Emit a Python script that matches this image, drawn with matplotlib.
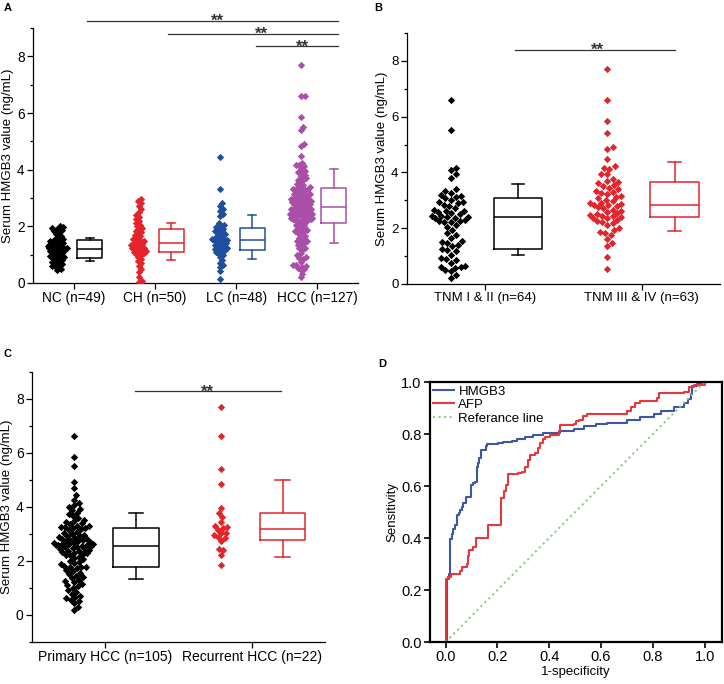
import numpy as np
import matplotlib
matplotlib.use('Agg')

import matplotlib.pyplot as plt
from matplotlib.ticker import MultipleLocator, FormatStrFormatter

plt.rcParams['font.family'] = ['Liberation Sans', 'DejaVu Sans']

# ---- panel A: serum HMGB3 per group
labels_a = ['NC (n=49)', 'CH (n=50)', 'LC (n=48)', 'HCC (n=127)']
nc = [2.0, 1.97, 1.93, 1.9, 1.86, 1.82, 1.78, 1.72, 1.66, 1.6, 1.56, 1.52, 1.5,
      1.47, 1.44, 1.41, 1.38, 1.35, 1.32, 1.3, 1.27, 1.25, 1.23, 1.22, 1.21,
      1.19, 1.17, 1.15, 1.12, 1.1, 1.07, 1.04, 1.01, 0.98, 0.95, 0.92, 0.9,
      0.88, 0.85, 0.82, 0.78, 0.75, 0.72, 0.68, 0.64, 0.6, 0.56, 0.5, 0.45]
ch = [2.95, 2.9, 2.82, 2.72, 2.6, 2.5, 2.4, 2.32, 2.25, 2.18, 2.12, 2.05,
      2.0, 1.95, 1.9, 1.85, 1.8, 1.75, 1.7, 1.65, 1.6, 1.55, 1.52, 1.48, 1.45,
      1.4, 1.37, 1.34, 1.31, 1.28, 1.25, 1.22, 1.2, 1.17, 1.14, 1.11,
      1.09, 1.06, 1.02, 0.98, 0.92, 0.85, 0.78, 0.7, 0.6, 0.48, 0.38, 0.22, 0.06, 0.02]
lc = [4.45, 3.3, 2.82, 2.72, 2.62, 2.55, 2.45, 2.38, 2.12, 2.05, 2.0, 1.96, 1.92,
      1.88, 1.84, 1.8, 1.76, 1.72, 1.68, 1.64, 1.6, 1.57, 1.55, 1.53, 1.52,
      1.49, 1.46, 1.42, 1.38, 1.35, 1.32, 1.29, 1.26, 1.23, 1.2, 1.17, 1.15,
      1.12, 1.08, 1.03, 0.98, 0.9, 0.8, 0.7, 0.62, 0.55, 0.42, 0.15]

# ---- panel B: HCC split by TNM stage
labels_b = ['TNM I & II (n=64)', 'TNM III & IV (n=63)']
tnm12 = [6.61, 5.51, 4.17, 4.07, 3.93, 3.81, 3.39, 3.33, 3.27, 3.2, 3.15, 3.12,
         3.08, 3.0, 2.95, 2.93, 2.9, 2.85, 2.79, 2.72, 2.65, 2.62, 2.6, 2.58,
         2.55, 2.5, 2.45, 2.43, 2.41, 2.4, 2.38, 2.35, 2.3, 2.27, 2.25, 2.24,
         2.22, 2.13, 2.05, 1.95, 1.83, 1.77, 1.65, 1.55, 1.49, 1.47, 1.4, 1.35,
         1.25, 1.23, 1.17, 1.05, 0.92, 0.89, 0.86, 0.75, 0.65, 0.62, 0.6, 0.58,
         0.5, 0.45, 0.32, 0.2]
tnm34 = [7.71, 6.61, 5.85, 5.41, 4.92, 4.83, 4.47, 4.23, 4.17, 4.13, 3.96, 3.93,
         3.78, 3.69, 3.65, 3.63, 3.55, 3.5, 3.45, 3.39, 3.33, 3.3, 3.27, 3.24,
         3.15, 3.12, 3.09, 3.02, 2.97, 2.92, 2.9, 2.86, 2.85, 2.82, 2.79, 2.75,
         2.72, 2.67, 2.62, 2.57, 2.55, 2.52, 2.48, 2.45, 2.43, 2.4, 2.37, 2.35,
         2.3, 2.25, 2.21, 2.19, 2.12, 2.0, 1.95, 1.88, 1.83, 1.77, 1.6, 1.47,
         1.35, 0.98, 0.53]
hcc = tnm12 + tnm34

# ---- panel C: primary vs recurrent HCC
labels_c = ['Primary HCC (n=105)', 'Recurrent HCC (n=22)']
primary = [6.61, 5.85, 5.51, 4.92, 4.68, 4.43, 4.25, 4.12, 4.05, 4.0,
           3.93, 3.86, 3.78, 3.72, 3.65, 3.58, 3.52, 3.47, 3.42, 3.38,
           3.34, 3.3, 3.27, 3.25, 3.23, 3.21, 3.2, 3.17, 3.12, 3.08,
           3.03, 3.0, 2.96, 2.93, 2.9, 2.87, 2.84, 2.82, 2.8, 2.78,
           2.75, 2.73, 2.71, 2.69, 2.67, 2.65, 2.63, 2.62, 2.6, 2.59,
           2.58, 2.57, 2.56,
           2.54, 2.52, 2.5, 2.47, 2.45, 2.42, 2.4, 2.37, 2.35, 2.32,
           2.3, 2.27, 2.25, 2.22, 2.2, 2.15, 2.1, 2.05, 2.0, 1.95,
           1.9, 1.86, 1.82, 1.78, 1.76, 1.75, 1.72, 1.65, 1.6, 1.55,
           1.5, 1.45, 1.4, 1.35, 1.3, 1.25, 1.2, 1.15, 1.1, 1.05,
           1.0, 0.92, 0.85, 0.78, 0.7, 0.65, 0.6, 0.55, 0.5, 0.42,
           0.3, 0.18]
recurrent = [7.7, 6.61, 5.39, 4.84, 3.96, 3.78, 3.63, 3.45, 3.29, 3.24, 3.2,
             3.14, 3.04, 3.02, 2.95, 2.87, 2.83, 2.71, 2.44, 2.38, 2.22, 1.85]

# box statistics (q1, median, q3, whisker low, whisker high)
a_q1 = [0.88, 1.09, 1.15, 2.10]
a_med = [1.21, 1.42, 1.53, 2.68]
a_q3 = [1.50, 1.90, 1.94, 3.35]
a_lo = [0.78, 0.80, 0.86, 1.40]
a_hi = [1.60, 2.12, 2.39, 4.02]

b_q1 = [1.25, 2.41]
b_med = [2.39, 2.84]
b_q3 = [3.08, 3.65]
b_lo = [1.03, 1.90]
b_hi = [3.60, 4.38]

c_q1 = [1.75, 2.77]
c_med = [2.56, 3.18]
c_q3 = [3.22, 3.75]
c_lo = [1.32, 2.14]
c_hi = [3.77, 4.98]

# ---- panel D: ROC curves (jump points)
hmgb3_fpr = [0, 0.006, 0.013, 0.017, 0.023, 0.03, 0.036, 0.043, 0.05, 0.055, 0.062,
             0.068, 0.079, 0.1, 0.107, 0.114, 0.12, 0.125, 0.13, 0.135, 0.156,
             0.161, 0.204, 0.223, 0.255, 0.275, 0.307, 0.339, 0.378, 0.443, 0.494,
             0.533, 0.58, 0.623, 0.70, 0.75, 0.804, 0.83, 0.88, 0.92, 0.935, 0.946,
             0.952, 0.97, 1.0]
hmgb3_tpr = [0, 0.243, 0.262, 0.397, 0.417, 0.436, 0.45, 0.488, 0.495, 0.507, 0.52,
             0.533, 0.559, 0.604, 0.61, 0.617, 0.675, 0.69, 0.707, 0.739, 0.752,
             0.761, 0.765, 0.769, 0.774, 0.782, 0.787, 0.795, 0.804, 0.81, 0.82,
             0.83, 0.838, 0.843, 0.855, 0.865, 0.877, 0.888, 0.903, 0.92, 0.935,
             0.952, 0.984, 0.994, 1.0]
afp_fpr = [0, 0.0, 0.01, 0.02, 0.055, 0.062, 0.081, 0.088, 0.092, 0.107, 0.117,
           0.163, 0.213, 0.225, 0.233, 0.242, 0.28, 0.294, 0.307, 0.32, 0.326,
           0.345, 0.355, 0.365, 0.375, 0.385, 0.404, 0.436, 0.443, 0.494, 0.505,
           0.514, 0.53, 0.546, 0.70, 0.715, 0.73, 0.752, 0.817, 0.823, 0.92,
           0.94, 0.959, 1.0]
afp_tpr = [0, 0.243, 0.25, 0.262, 0.275, 0.288, 0.30, 0.33, 0.352, 0.365, 0.40,
           0.449, 0.552, 0.58, 0.604, 0.645, 0.65, 0.655, 0.675, 0.70, 0.72,
           0.726, 0.745, 0.765, 0.78, 0.79, 0.797, 0.81, 0.836, 0.84, 0.85,
           0.855, 0.87, 0.877, 0.888, 0.905, 0.92, 0.926, 0.94, 0.959, 0.963,
           0.981, 0.99, 1.0]

BLACK = 'black'
RED = '#e3242b'
BLUE = '#1f4e9f'
PURPLE = '#a94fa8'


def swarm_x(ax, center, values, d, maxw):
    # simple beeswarm in pixel space, points placed nearest the centre line,
    # wide rows squeezed softly into +-maxw pixels (points then overlap)
    vals = np.asarray(values, float)
    pts = ax.transData.transform(np.column_stack([np.full(len(vals), center), vals]))
    ypix = pts[:, 1]
    offs = np.zeros(len(vals))
    placed = []
    for i in np.argsort(ypix):
        y = ypix[i]
        near = [(px, py) for px, py in placed if abs(py - y) < d]
        cands = [0.0]
        for px, py in near:
            dx = np.sqrt(d * d - (py - y) ** 2)
            cands += [px + dx, px - dx]
        cands.sort(key=abs)
        for c in cands:
            if all((c - px) ** 2 + (y - py) ** 2 >= d * d - 1e-6 for px, py in near):
                offs[i] = c
                break
        placed.append((offs[i], y))
    offs = maxw * np.tanh(offs / maxw)
    back = ax.transData.inverted().transform(np.column_stack([pts[:, 0] + offs, ypix]))
    return back[:, 0]


def draw_boxes(ax, pos, q1, med, q3, lo, hi, colors, width, capw):
    for i in range(len(pos)):
        st = [dict(q1=q1[i], med=med[i], q3=q3[i], whislo=lo[i], whishi=hi[i], fliers=[])]
        c = colors[i]
        lp = dict(color=c, linewidth=1.1)
        ax.bxp(st, positions=[pos[i]], widths=width, capwidths=capw, showfliers=False,
               manage_ticks=False, boxprops=lp, medianprops=lp, whiskerprops=lp, capprops=lp)


def style_axes(ax, fs):
    for s in ['top', 'right']:
        ax.spines[s].set_visible(False)
    for s in ['left', 'bottom']:
        ax.spines[s].set_linewidth(0.9)
    ax.yaxis.set_major_locator(MultipleLocator(2))
    ax.yaxis.set_minor_locator(MultipleLocator(1))
    ax.tick_params(which='major', length=4, width=0.9, labelsize=fs, direction='out', pad=2)
    ax.tick_params(which='minor', length=2.5, width=0.9)


def sig_bar(ax, x0, x1, y, xs):
    ax.plot([x0, x1], [y, y], color='#333333', lw=0.9, clip_on=False)
    ax.annotate('**', xy=(xs, y), xytext=(0, -4), textcoords='offset points',
                ha='center', va='baseline', fontsize=12, fontweight='bold',
                color='#333333', annotation_clip=False)


def group_panel(ax, groups, labels, colors, q1, med, q3, lo, hi, ylim, d, maxw,
                fs, dx_s, dx_b, capw):
    ax.set_xlim(0.5, len(groups) + 0.5)
    ax.set_ylim(*ylim)
    style_axes(ax, fs)
    for i, vals in enumerate(groups):
        xs = swarm_x(ax, i + 1 + dx_s, vals, d, maxw)
        ax.scatter(xs, vals, marker='D', s=14, color=colors[i], linewidths=0, zorder=3)
    pos = [i + 1 + dx_b for i in range(len(groups))]
    draw_boxes(ax, pos, q1, med, q3, lo, hi, colors, 0.31, capw)
    ax.set_xticks(range(1, len(groups) + 1))
    ax.set_xticklabels(labels)
    ax.set_ylabel('Serum HMGB3 value (ng/mL)', fontsize=9.5, labelpad=2)


fig = plt.figure(figsize=(7.24, 6.84), dpi=100)

# A
ax_a = fig.add_axes([0.0456, 0.5863, 0.4489, 0.3727])
group_panel(ax_a, [nc, ch, lc, hcc], labels_a, [BLACK, RED, BLUE, PURPLE],
            a_q1, a_med, a_q3, a_lo, a_hi, (0, 9), 3.6, 13, 9.8, -0.2, 0.2, 0.1)
sig_bar(ax_a, 1.16, 4.25, 9.26, 2.77)
sig_bar(ax_a, 2.16, 4.25, 8.80, 3.31)
sig_bar(ax_a, 3.25, 4.25, 8.35, 3.81)

# B
ax_b = fig.add_axes([0.562, 0.5848, 0.4325, 0.3670])
group_panel(ax_b, [tnm12, tnm34], labels_b, [BLACK, RED],
            b_q1, b_med, b_q3, b_lo, b_hi, (0, 9), 6.0, 24, 9.5, -0.22, 0.21, 0.08)
sig_bar(ax_b, 1.19, 2.21, 8.4, 1.72)

# C
ax_c = fig.add_axes([0.0442, 0.0619, 0.4047, 0.3947])
group_panel(ax_c, [primary, recurrent], labels_c, [BLACK, RED],
            c_q1, c_med, c_q3, c_lo, c_hi, (-1, 9), 5.0, 24, 10, -0.21, 0.21, 0.096)
sig_bar(ax_c, 1.2, 2.2, 8.28, 1.7)

# D
ax_d = fig.add_axes([0.594, 0.0614, 0.4035, 0.3801])
ax_d.plot(hmgb3_fpr, hmgb3_tpr, drawstyle='steps-post', color='#3d56a6', lw=1.5, label='HMGB3')
ax_d.plot(afp_fpr, afp_tpr, drawstyle='steps-post', color='#e5383e', lw=1.5, label='AFP')
ax_d.plot([0, 1], [0, 1], color='#8dcb8d', lw=1.5, ls=':', label='Referance line')
ax_d.set_xlim(-0.06, 1.068)
ax_d.set_ylim(0, 1)
ax_d.set_xticks(np.arange(0, 1.01, 0.2))
ax_d.set_yticks(np.arange(0, 1.01, 0.2))
ax_d.xaxis.set_major_formatter(FormatStrFormatter('%.1f'))
ax_d.yaxis.set_major_formatter(FormatStrFormatter('%.1f'))
for s in ax_d.spines.values():
    s.set_linewidth(1.6)
ax_d.tick_params(length=4, width=1.2, labelsize=10.5, direction='out', pad=2)
ax_d.set_xlabel('1-specificity', fontsize=9.5, labelpad=1)
ax_d.set_ylabel('Sensitivity', fontsize=9.5, labelpad=2)
ax_d.legend(loc='upper left', frameon=False, fontsize=9.5, handlelength=1.6,
            handletextpad=0.3, labelspacing=0.1, borderaxespad=0.15, borderpad=0.1)

# panel letters
for txt, x, y in [('A', 0.005, 0.996), ('B', 0.517, 0.996), ('C', 0.005, 0.49), ('D', 0.522, 0.475)]:
    fig.text(x, y, txt, fontsize=8, fontweight='bold', va='top', ha='left')

fig.savefig('out.png', dpi=100)
